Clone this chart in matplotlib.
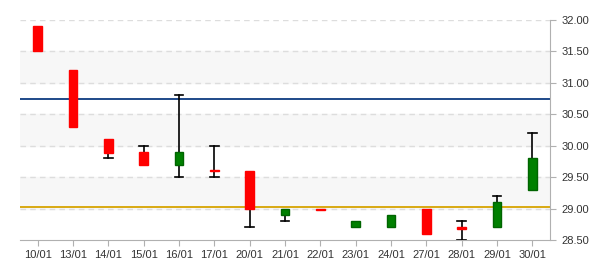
import matplotlib
matplotlib.use('Agg')
import matplotlib.pyplot as plt

plt.rcParams['font.family'] = ['Liberation Sans', 'DejaVu Sans']

# Daily OHLC values
dates = ['10/01', '13/01', '14/01', '15/01', '16/01', '17/01', '20/01', '21/01',
         '22/01', '23/01', '24/01', '27/01', '28/01', '29/01', '30/01']
opens = [31.90, 31.20, 30.10, 29.90, 29.70, 29.61, 29.60, 28.90, 29.00, 28.70, 28.70, 29.00, 28.70, 28.70, 29.30]
highs = [31.90, 31.20, 30.10, 30.00, 30.80, 30.00, 29.60, 29.00, 29.00, 28.80, 28.90, 29.00, 28.80, 29.20, 30.20]
lows = [31.50, 30.30, 29.80, 29.70, 29.50, 29.50, 28.70, 28.80, 28.98, 28.70, 28.70, 28.60, 28.50, 28.70, 29.30]
closes = [31.50, 30.30, 29.88, 29.70, 29.90, 29.59, 29.00, 29.00, 28.98, 28.80, 28.90, 28.60, 28.68, 29.10, 29.80]

# Reference lines
upper_line = 30.74
lower_line = 29.025

yticks = [28.5, 29.0, 29.5, 30.0, 30.5, 31.0, 31.5, 32.0]
bands = [(29.0, 29.5), (30.0, 30.5), (31.0, 31.5)]


def draw_chart():
    fig = plt.figure(figsize=(6, 2.7), dpi=100)
    ax = fig.add_axes([20 / 600, 1 - 240 / 270, 530 / 600, 220 / 270])

    for lo, hi in bands:
        ax.axhspan(lo, hi, color='#f7f7f7', zorder=0)
    for y in yticks[1:]:
        ax.axhline(y, color='#dddddd', lw=1, ls=(0, (4, 3)), zorder=1)

    ax.axhline(upper_line, color='#0d3a80', lw=1.3, zorder=2)
    ax.axhline(lower_line, color='#d6a300', lw=1.3, zorder=2)

    w = 0.25
    for i in range(len(dates)):
        o, h, l, c = opens[i], highs[i], lows[i], closes[i]
        top, bot = max(o, c), min(o, c)
        if h > top:
            ax.plot([i, i], [top, h], color='black', lw=1.2, zorder=3)
            ax.plot([i - w / 2, i + w / 2], [h, h], color='black', lw=1.2, zorder=3)
        if l < bot:
            ax.plot([i, i], [l, bot], color='black', lw=1.2, zorder=3)
            ax.plot([i - w / 2, i + w / 2], [l, l], color='black', lw=1.2, zorder=3)
        if c > o:
            face, edge = '#008000', '#006400'
        else:
            face, edge = '#ff0000', '#ff0000'
        ax.bar(i, top - bot, bottom=bot, width=w, color=face, edgecolor=edge,
               linewidth=1, zorder=4)

    ax.set_xlim(-0.5, len(dates) - 0.5)
    ax.set_ylim(28.5, 32.0)
    ax.set_xticks(range(len(dates)))
    ax.set_xticklabels(dates)
    ax.set_yticks(yticks)
    ax.set_yticklabels(['%.2f' % v for v in yticks])
    ax.yaxis.tick_right()

    for side in ['top', 'left']:
        ax.spines[side].set_visible(False)
    for side in ['bottom', 'right']:
        ax.spines[side].set_color('#b0b0b0')
    ax.tick_params(colors='#b0b0b0', labelcolor='#333333', labelsize=8, length=4)
    ax.tick_params(axis='x', pad=3)
    ax.tick_params(axis='y', pad=4)

    fig.savefig('out.png', dpi=100)


if __name__ == "__main__":
    draw_chart()
